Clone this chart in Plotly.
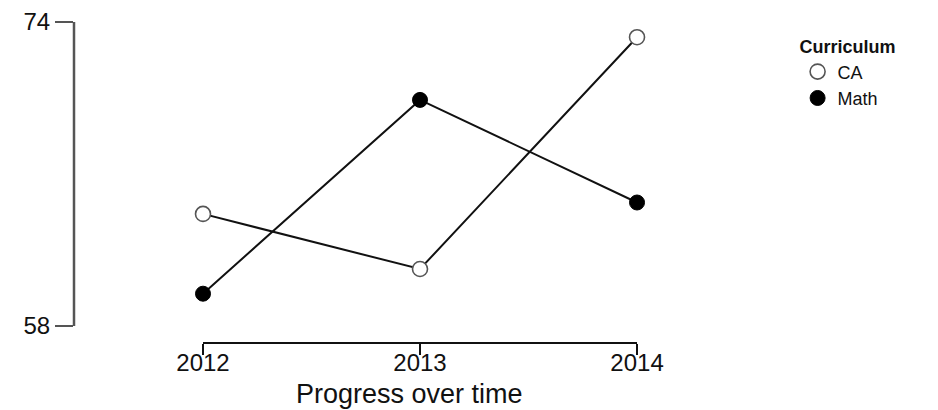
import plotly.graph_objects as go

# Scores by year for each curriculum
years = [2012, 2013, 2014]
ca_scores = [63.9, 61.0, 73.2]
math_scores = [59.7, 69.9, 64.5]

y_ticks = [58, 74]
x_ticks = [2012, 2013, 2014]

FONT = "Liberation Sans, Arial, sans-serif"
INK = "#111111"

fig = go.Figure()

# connecting lines first so markers sit on top
for vals in (ca_scores, math_scores):
    fig.add_trace(go.Scatter(
        x=years, y=vals, mode="lines",
        line=dict(color=INK, width=2),
        showlegend=False, hoverinfo="skip",
    ))

fig.add_trace(go.Scatter(
    x=years, y=ca_scores, mode="markers", name="CA",
    marker=dict(symbol="circle", size=15, color="white",
                line=dict(color="#555555", width=1.6)),
    cliponaxis=False,
))
fig.add_trace(go.Scatter(
    x=years, y=math_scores, mode="markers", name="Math",
    marker=dict(symbol="circle", size=15, color="black",
                line=dict(color="black", width=1)),
    cliponaxis=False,
))

# range-frame axis lines spanning only the tick range
fig.add_shape(type="line", xref="x", yref="paper",
              x0=min(x_ticks), x1=max(x_ticks), y0=0, y1=0,
              line=dict(color=INK, width=2))
fig.add_shape(type="line", xref="paper", yref="y",
              x0=0, x1=0, y0=min(y_ticks), y1=max(y_ticks),
              line=dict(color="#555555", width=2.5))

# x-axis title, centred under the panel
fig.add_annotation(
    text="Progress over time", xref="paper", yref="paper",
    x=0.5, y=-0.154, xanchor="center", yanchor="middle",
    showarrow=False, font=dict(size=27, color=INK),
)

fig.update_layout(
    width=938, height=410,
    margin=dict(l=74, r=194, t=10, b=67, autoexpand=False),
    paper_bgcolor="white", plot_bgcolor="white",
    font=dict(family=FONT, color=INK),
    xaxis=dict(
        range=[2011.4055, 2014.493],
        tickvals=x_ticks, ticktext=[str(v) for v in x_ticks],
        ticks="outside", ticklen=11, tickwidth=2, tickcolor=INK,
        tickfont=dict(size=24, color=INK), ticklabelstandoff=-13,
        showgrid=False, zeroline=False, showline=False, automargin=False,
    ),
    yaxis=dict(
        range=[57.105, 74.632],
        tickvals=y_ticks, ticktext=[str(v) for v in y_ticks],
        ticks="outside", ticklen=18, tickwidth=2, tickcolor="#555555",
        tickfont=dict(size=24, color=INK),
        showgrid=False, zeroline=False, showline=False, automargin=False,
    ),
    legend=dict(
        x=1.08, y=0.94, xanchor="left", yanchor="top",
        title=dict(text="<b>Curriculum</b>", font=dict(size=18, color=INK)),
        font=dict(size=18, color=INK),
        bgcolor="rgba(0,0,0,0)", tracegroupgap=0,
    ),
)

fig.write_html("out.html")
